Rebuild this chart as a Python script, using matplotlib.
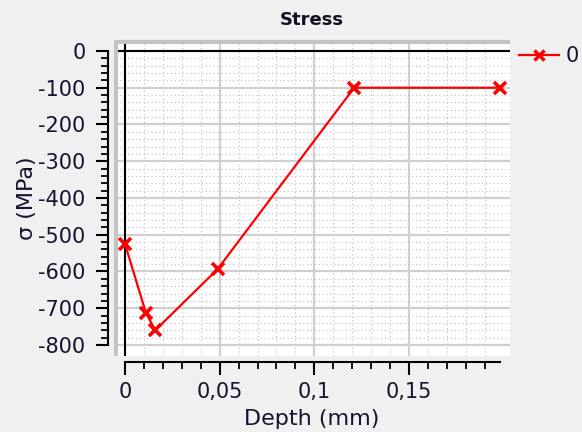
import matplotlib
matplotlib.use("Agg")
import matplotlib.pyplot as plt
from matplotlib.lines import Line2D
import numpy as np

depth = [0.0, 0.011, 0.016, 0.049, 0.121, 0.198]
stress = [-525, -712, -760, -593, -100, -100]
x_ticks = [0, 0.05, 0.1, 0.15]
x_tick_labels = ["0", "0,05", "0,1", "0,15"]
y_ticks = [0, -100, -200, -300, -400, -500, -600, -700, -800]
y_tick_labels = ["0", "-100", "-200", "-300", "-400", "-500", "-600", "-700", "-800"]
series_name = "0"

W, H = 582, 432
fig = plt.figure(figsize=(W / 100, H / 100), dpi=100, facecolor="#f0f0f0")
L, R, T, B = 116, 510, 42, 356
ax = fig.add_axes([L / W, 1 - B / H, (R - L) / W, (B - T) / H])
ax.set_facecolor("white")

ax.set_xlim(-0.00475, 0.2033)
ax.set_ylim(-830, 24.5)

txtc = "#141430"
for s in ["top", "right"]:
    ax.spines[s].set_visible(False)
ax.spines["bottom"].set_position(("outward", 4))
ax.spines["left"].set_position(("outward", 6))
ax.spines["bottom"].set_bounds(0, 0.198)
ax.spines["left"].set_bounds(-800, 0)
ax.spines["bottom"].set_linewidth(1.5)
ax.spines["left"].set_linewidth(1.5)

ax.set_xticks(x_ticks, x_tick_labels)
ax.set_yticks(y_ticks, y_tick_labels)
ax.set_xticks(np.arange(0, 0.199, 0.01), minor=True)
ax.set_yticks(np.arange(-800, 1, 20), minor=True)
ax.tick_params(which="major", length=9, width=1.5, labelsize=15, labelcolor=txtc)
ax.tick_params(which="minor", length=5, width=1.3)
ax.tick_params(axis="x", pad=6)
ax.tick_params(axis="y", pad=7)

ax.grid(which="major", color="#d0d0d0", linewidth=1.6, linestyle="-")
ax.grid(which="minor", color="#bdbdbd", linewidth=0.8, linestyle=(0, (1, 2.5)))
ax.set_axisbelow(True)

ax.axvline(0, color="black", lw=1.5, zorder=1.5)
ax.axhline(0, color="black", lw=1.5, zorder=1.5)

ax.plot([0, 0, 1], [0, 1, 1], transform=ax.transAxes, color="#c4c4c4", lw=3,
        clip_on=False, zorder=3, solid_capstyle="butt")

ax.plot(depth, stress, color="#ff0000", lw=1.6, marker="x", markersize=9,
        markeredgewidth=2.6, zorder=4)

fig.text(312 / W, 1 - 419 / H, "Depth (mm)", ha="center", va="center",
         fontsize=16, color=txtc)
fig.text(27 / W, 1 - 198 / H, "σ (MPa)", ha="center", va="center",
         rotation=90, fontsize=16, color=txtc)
fig.text(312 / W, 1 - 20 / H, "Stress", ha="center", va="center",
         fontsize=13, fontweight="bold", color="#101020")

h = Line2D([], [], color="#ff0000", lw=1.6, marker="x", markersize=7, markeredgewidth=2.5)
fig.legend([h], [series_name], loc="center left", bbox_to_anchor=(519 / W, 1 - 56 / H),
           frameon=False, fontsize=15, handlelength=1.9, handletextpad=0.35,
           borderaxespad=0, borderpad=0, labelcolor=txtc)

fig.savefig("out.png", dpi=100, facecolor=fig.get_facecolor())
